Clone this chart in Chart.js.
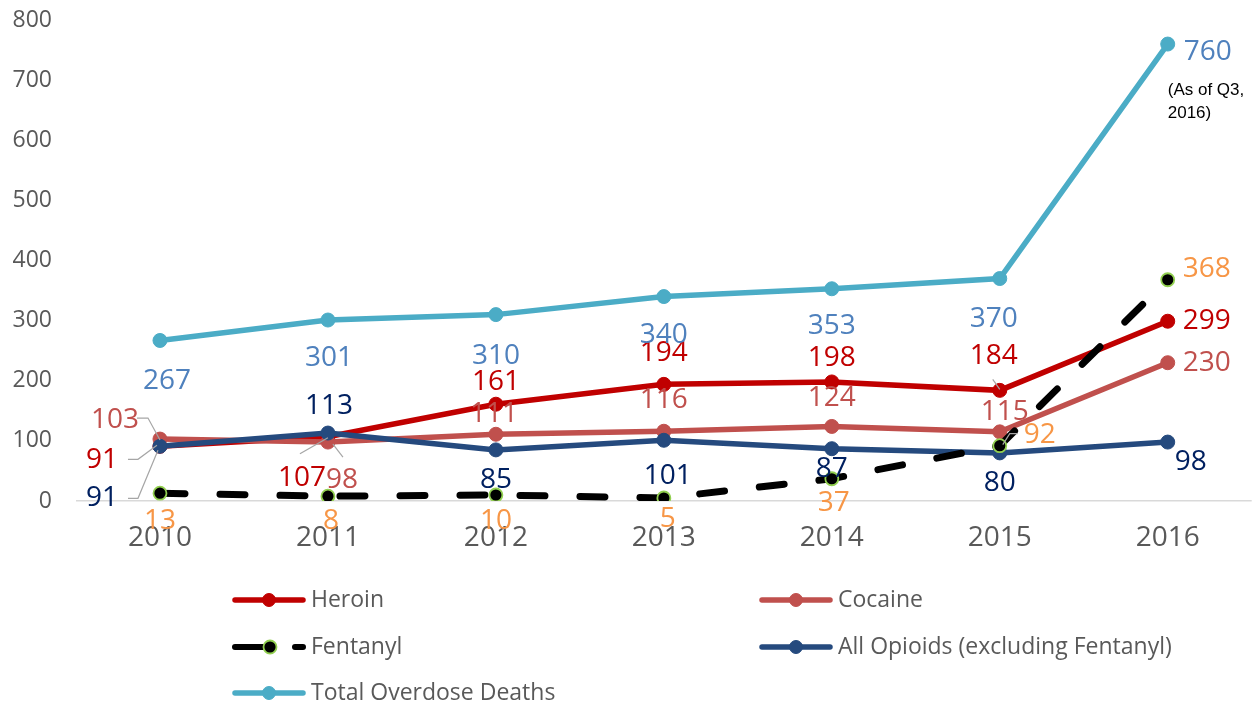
<!DOCTYPE html>
<html>
<head>
<meta charset="utf-8">
<script src="https://cdn.jsdelivr.net/npm/chart.js@4.4.1/dist/chart.umd.min.js"></script>
<style>
  html, body { margin: 0; padding: 0; background: #fff; }
  #wrap { width: 1260px; height: 704px; position: relative; }
</style>
</head>
<body>
<div id="wrap"><canvas id="chart"></canvas></div>
<script>
// Dados
const years = ['2010', '2011', '2012', '2013', '2014', '2015', '2016'];
const heroin = [91, 107, 161, 194, 198, 184, 299];
const cocaine = [103, 98, 111, 116, 124, 115, 230];
const fentanyl = [13, 8, 10, 5, 37, 92, 368];
const allOpioids = [91, 113, 85, 101, 87, 80, 98];
const totalDeaths = [267, 301, 310, 340, 353, 370, 760];
const yTicks = [0, 100, 200, 300, 400, 500, 600, 700, 800];

const FONT = "'Open Sans', 'Noto Sans', sans-serif";
const GREY = '#595959';

// Deslocamento dos rótulos (px) em relação a cada ponto
const labelOffsets = [
    [[-58, 14], [-26, 41], [0, -22], [0, -31], [0, -24], [-6, -34], [39, 0]],   // heroin
    [[-45, -19], [14, 38], [-2, -20], [0, -31], [0, -28], [5, -20], [39, 0]],   // cocaine
    [[0, 28], [3, 25], [0, 26], [4, 21], [2, 24], [40, -11], [39, -11]],        // fentanyl
    [[-58, 52], [1, -27], [0, 30], [4, 36], [0, 20], [0, 30], [23, 20]],        // opioids
    [[7, 41], [1, 38], [0, 41], [0, 38], [0, 37], [-6, 40], [40, 8]]            // total
];
const labelColors = ['#C00000', '#C0504D', '#F79646', '#002060', '#4F81BD'];

// Linhas de chamada (leader lines) em px relativos ao ponto
const leaders = [
    { ds: 1, i: 0, path: [[-23, -21], [-12, -21], [0, 1]] },
    { ds: 0, i: 0, path: [[-32, 13], [-22, 13], [-3, -1]] },
    { ds: 3, i: 0, path: [[-32, 52], [-22, 52], [-2, 4]] },
    { ds: 0, i: 1, path: [[-28, 17], [0, 1]] },
    { ds: 1, i: 1, path: [[5, 2], [15, 15]] },
    { ds: 0, i: 5, path: [[-7, -11], [0, -1]] },
    { ds: 2, i: 5, path: [[3, -1], [10, -12], [18, -12]] }
];

// Plugin: rótulos de dados + nota
const dataLabelsPlugin = {
    id: 'dataLabels',
    afterDatasetsDraw(chart) {
        const ctx = chart.ctx;
        ctx.save();
        // leader lines
        ctx.strokeStyle = '#A6A6A6';
        ctx.lineWidth = 1.2;
        leaders.forEach(l => {
            const pt = chart.getDatasetMeta(l.ds).data[l.i];
            ctx.beginPath();
            l.path.forEach((p, k) => {
                if (k === 0) ctx.moveTo(pt.x + p[0], pt.y + p[1]);
                else ctx.lineTo(pt.x + p[0], pt.y + p[1]);
            });
            ctx.stroke();
        });
        ctx.font = '28px ' + FONT;
        ctx.textAlign = 'center';
        ctx.textBaseline = 'middle';
        chart.data.datasets.forEach((ds, d) => {
            const meta = chart.getDatasetMeta(d);
            ctx.fillStyle = labelColors[d];
            meta.data.forEach((pt, i) => {
                const off = labelOffsets[d][i];
                ctx.fillText(String(ds.data[i]), pt.x + off[0], pt.y + off[1]);
            });
        });
        // nota do último ponto do total
        const last = chart.getDatasetMeta(4).data[6];
        ctx.fillStyle = '#000';
        ctx.font = "17px 'Liberation Sans', Arial, sans-serif";
        ctx.textAlign = 'left';
        ctx.fillText('(As of Q3,', last.x, last.y + 46);
        ctx.fillText('2016)', last.x, last.y + 69);
        ctx.restore();
    }
};

// Plugin: legenda em duas colunas
const legendPlugin = {
    id: 'customLegend',
    afterDraw(chart) {
        const ctx = chart.ctx;
        const slots = [[233, 600], [760, 600], [233, 647], [760, 647], [233, 693]];
        ctx.save();
        chart.data.datasets.forEach((ds, d) => {
            const [x, y] = slots[d];
            ctx.strokeStyle = ds.borderColor;
            ctx.lineWidth = d === 2 ? 6 : 5.5;
            ctx.lineCap = 'round';
            ctx.beginPath();
            if (d === 2) {
                ctx.moveTo(x + 2, y); ctx.lineTo(x + 36, y);
                ctx.moveTo(x + 62, y); ctx.lineTo(x + 70, y);
            } else {
                ctx.moveTo(x + 2, y); ctx.lineTo(x + 70, y);
            }
            ctx.stroke();
            const mx = d === 2 ? x + 37 : x + 36;
            ctx.beginPath();
            ctx.arc(mx, y, 6.5, 0, Math.PI * 2);
            ctx.fillStyle = ds.pointBackgroundColor;
            ctx.fill();
            ctx.lineWidth = ds.pointBorderWidth;
            ctx.strokeStyle = ds.pointBorderColor;
            ctx.stroke();
            ctx.fillStyle = GREY;
            ctx.font = '23px ' + FONT;
            ctx.textAlign = 'left';
            ctx.textBaseline = 'middle';
            ctx.fillText(ds.label, x + 78, y);
        });
        ctx.restore();
    }
};

function lineSet(label, data, color, order) {
    return {
        label: label,
        data: data,
        borderColor: color,
        backgroundColor: color,
        pointBackgroundColor: color,
        pointBorderColor: color,
        pointBorderWidth: 1,
        pointRadius: 7,
        borderWidth: 5.5,
        tension: 0,
        order: order
    };
}

const datasets = [
    lineSet('Heroin', heroin, '#C00000', 5),
    lineSet('Cocaine', cocaine, '#C0504D', 4),
    {
        label: 'Fentanyl',
        data: fentanyl,
        borderColor: '#000000',
        backgroundColor: '#000000',
        pointBackgroundColor: '#000000',
        pointBorderColor: '#92D050',
        pointBorderWidth: 1.8,
        pointRadius: 6.5,
        borderWidth: 7,
        borderDash: [25, 35],
        borderCapStyle: 'round',
        order: 2
    },
    lineSet('All Opioids (excluding Fentanyl)', allOpioids, '#254A7E', 3),
    lineSet('Total Overdose Deaths', totalDeaths, '#4BACC6', 1)
];

new Chart(document.getElementById('chart'), {
    type: 'line',
    data: { labels: years, datasets: datasets },
    options: {
        responsive: true,
        maintainAspectRatio: false,
        animation: false,
        layout: { padding: { top: 20, right: 8, left: 0, bottom: 0 } },
        plugins: {
            legend: { display: false },
            tooltip: { enabled: false }
        },
        scales: {
            x: {
                offset: true,
                grid: { display: false },
                border: { display: false },
                ticks: { color: GREY, font: { family: FONT, size: 28 }, padding: 12 },
                afterFit(scale) { scale.height = 203; }
            },
            y: {
                min: 0,
                max: 800,
                afterBuildTicks(scale) { scale.ticks = yTicks.map(v => ({ value: v })); },
                grid: {
                    color: c => (c.tick && c.tick.value === 0 ? '#D9D9D9' : 'rgba(0,0,0,0)'),
                    lineWidth: 1.5,
                    drawTicks: false
                },
                border: { display: false },
                ticks: { color: GREY, font: { family: FONT, size: 23 }, padding: 24 },
                afterFit(scale) {
                    scale.width = 76;
                    scale.paddingTop = 0;
                    scale.paddingBottom = 0;
                }
            }
        }
    },
    plugins: [dataLabelsPlugin, legendPlugin]
});
</script>
</body>
</html>
